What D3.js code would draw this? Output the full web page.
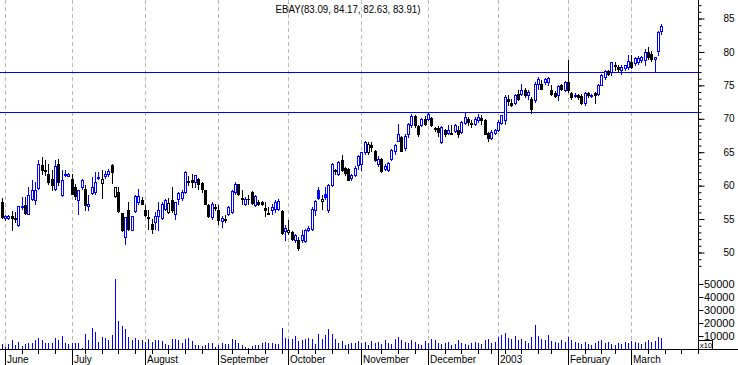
<!DOCTYPE html>
<html>
<head>
<meta charset="utf-8">
<script src="https://cdn.jsdelivr.net/npm/d3@7"></script>
<style>
  body { margin: 0; background: #fff; }
  svg { display: block; font-family: "Liberation Sans", Arial, sans-serif; }
</style>
</head>
<body>
<svg id="chart"></svg>
<script>
// Daily EBAY quotes, 31 May 2002 .. 13 Mar 2003
const opens = [57.6,55.1,55.2,55.4,55.1,54.05,56.8,57.05,55.8,58.05,57.9,59.7,63.05,62.3,61.8,61.05,59.55,63.3,58.55,61.6,
61.5,61.05,59.8,57.8,59.8,59.55,56.9,58.9,59.05,61.2,60.45,61.5,61.7,63.1,58.4,59.05,55.9,52.3,56.3,53.4,
56.2,57.6,57.9,56.3,55.3,54.3,54.55,55.4,55.2,56.55,56.05,57.8,55.8,58.05,58.2,59.05,60.6,60.9,60.55,61.05,
60.4,59.3,57.05,55.3,56.8,56.3,54.7,54.95,55.8,56.05,59.05,60.2,58.1,57.3,58.05,59.05,57.05,57.6,57.55,56.7,
55.9,56.3,56.55,56.55,56.2,53.2,53.05,53.05,51.8,51.8,51.8,51.7,53.4,53.55,56.3,59.3,57.7,58.8,56.3,60.05,
62.3,61.8,63.85,62.6,62.5,61.2,61.55,63.15,63.25,65.0,65.0,66.1,65.15,63.25,64.0,62.5,62.3,64.0,65.25,66.75,
67.25,65.65,67.65,69.0,70.35,68.85,69.0,70.0,70.0,70.15,68.6,68.65,66.5,68.35,67.85,67.8,68.15,68.25,68.0,69.35,
70.0,69.3,69.15,69.75,70.1,69.85,67.85,67.15,67.85,68.25,69.4,69.75,73.0,72.4,72.4,73.65,73.75,74.25,73.5,73.0,
72.75,75.25,75.25,75.5,75.5,74.25,73.9,73.5,75.1,74.25,75.5,73.9,73.4,73.6,73.4,72.4,73.9,73.4,73.9,73.75,
75.1,76.25,77.1,77.0,78.0,77.75,77.35,77.6,77.75,78.5,78.4,78.5,78.75,78.75,80.0,79.7,78.97,80.07,83.09];
const highs = [58.1,55.6,55.6,56.2,56.0,57.0,58.3,58.3,59.8,60.8,60.55,63.9,64.3,63.8,63.3,62.3,63.8,64.0,62.3,62.3,
61.9,61.8,60.3,59.4,61.05,60.05,58.55,61.3,62.05,62.05,62.3,62.2,62.5,63.2,59.8,59.8,55.9,55.3,57.55,55.4,
58.55,59.5,58.3,57.05,56.3,55.05,56.05,57.55,57.55,58.05,58.2,59.8,57.55,59.05,59.3,62.2,61.5,61.8,61.55,61.2,
60.55,59.4,57.3,57.55,57.3,57.05,55.4,55.55,56.9,59.3,60.55,60.3,59.3,58.3,58.55,59.2,58.55,57.8,57.7,57.55,
56.8,57.3,57.8,58.05,56.3,54.05,54.8,53.2,52.8,52.3,53.3,53.55,53.9,56.8,57.8,59.8,58.55,59.8,60.3,63.4,
62.5,63.75,64.6,62.75,62.7,61.8,63.0,64.65,65.0,66.75,66.5,66.5,65.35,64.5,64.15,63.25,63.5,65.5,66.25,69.15,
67.5,67.65,69.35,70.75,70.5,69.0,70.15,70.35,71.0,70.25,68.75,68.85,68.85,68.5,69.0,69.0,69.15,68.85,69.65,70.85,
70.25,69.75,70.25,70.75,70.5,70.0,68.0,68.25,68.5,69.75,70.6,73.5,73.5,73.0,73.75,74.25,75.25,74.6,74.25,73.25,
75.5,76.3,75.75,76.1,76.25,75.0,74.1,75.0,75.25,75.6,78.85,74.0,73.9,73.75,73.75,74.0,74.0,73.75,74.0,75.25,
76.75,77.25,77.25,78.55,78.5,78.0,78.0,78.1,79.55,79.55,79.25,79.45,79.35,80.45,80.7,80.1,79.22,83.2,84.17];
const lows = [55.2,54.9,55.0,53.3,54.5,53.9,56.5,55.8,55.7,57.8,57.3,59.55,61.8,61.55,60.3,59.3,59.4,60.05,58.5,61.4,
61.4,58.7,58.05,55.7,59.55,56.3,56.3,58.8,58.8,61.05,58.2,61.2,61.5,60.4,58.3,56.05,53.2,51.3,53.3,53.3,
56.05,57.3,57.2,55.4,53.55,52.9,53.55,53.4,55.05,56.3,55.9,56.05,55.05,57.3,57.9,58.9,60.05,59.8,59.8,59.55,
59.05,57.2,55.3,55.05,56.3,54.3,53.8,54.55,55.55,55.9,58.8,58.55,57.3,57.05,57.3,57.3,56.9,57.05,57.05,55.4,
55.8,55.8,56.05,56.3,52.8,51.8,52.8,51.8,51.55,50.4,51.55,51.55,53.2,53.4,55.55,58.05,56.55,58.05,56.05,59.9,
61.7,61.55,62.2,61.55,60.8,60.9,61.4,62.5,62.3,64.75,64.75,65.25,63.75,63.0,62.05,62.3,62.2,63.85,64.75,66.65,
65.15,65.35,67.35,68.75,68.75,67.5,68.85,69.0,69.85,68.85,68.15,67.5,66.35,67.5,67.65,67.65,68.0,67.35,67.85,69.25,
69.0,68.75,69.0,69.5,69.25,67.65,66.65,67.0,67.65,68.15,69.2,69.25,72.0,71.9,72.25,72.75,73.5,73.25,73.0,70.9,
72.5,74.5,74.4,75.25,75.0,73.6,73.25,72.75,74.25,74.1,74.0,73.0,73.25,72.9,72.25,72.1,73.25,73.25,72.4,73.6,
75.0,76.0,76.6,76.6,77.25,77.2,76.75,77.25,77.5,77.6,78.1,78.2,78.5,78.1,79.0,78.7,77.0,79.57,82.63];
const closes = [55.3,55.4,55.5,55.2,55.0,56.9,57.0,55.9,58.55,59.3,59.4,63.2,62.3,62.2,60.55,60.05,62.9,60.55,60.8,61.7,
61.8,58.8,58.45,59.3,60.9,57.1,57.3,59.8,60.55,61.3,61.05,61.8,62.2,62.1,59.8,56.2,53.3,55.3,53.55,55.4,
58.4,58.5,57.3,55.55,55.2,53.55,55.4,56.3,57.2,57.8,57.4,56.3,57.55,58.9,59.05,62.05,60.7,60.55,61.55,60.3,
59.55,57.3,55.4,57.3,56.7,54.8,55.2,54.9,56.8,59.2,60.3,58.7,58.0,58.05,58.0,57.4,58.4,57.3,57.2,56.3,
55.8,56.8,57.55,57.65,52.9,53.7,53.4,51.95,52.55,50.7,52.55,53.3,53.7,56.55,57.65,58.2,58.05,58.3,60.05,63.2,
62.2,63.5,62.3,61.9,60.9,61.55,62.7,64.5,65.0,66.5,66.25,65.85,63.85,64.0,62.2,63.0,63.35,65.35,66.1,67.75,
65.25,67.5,69.25,70.35,69.0,67.65,70.0,69.15,70.75,69.0,68.5,68.0,68.75,67.75,68.35,67.75,69.0,67.65,69.5,70.25,
69.5,69.25,69.9,70.25,69.75,67.75,67.15,68.0,68.25,69.5,70.5,73.25,72.6,72.1,73.6,73.0,74.25,73.5,74.0,71.4,
75.25,76.0,74.5,76.0,76.05,73.75,73.4,74.9,74.5,75.5,74.25,73.25,73.6,73.25,72.4,73.9,73.5,73.6,73.5,75.1,
76.5,77.1,76.75,78.5,77.95,77.4,77.7,78.0,78.7,77.75,79.05,79.1,79.25,80.05,79.2,78.97,79.22,83.05,83.91];
const volumes = [3800,1800,3800,6900,3100,5400,2300,3800,4600,4600,
6900,8500,6900,4600,4600,4600,8500,6900,10000,4600,
3800,4600,4600,4600,800,11500,6900,16100,13100,5400,
9200,8500,6900,10800,53800,21500,17700,15400,9200,6900,
8500,6900,6900,5400,7700,5400,6900,6900,6200,3800,
3100,7700,7700,6900,4600,7700,8500,6200,3100,3100,
2300,3100,4600,4600,1500,3100,4600,3800,3800,7700,
6900,4600,3100,1500,800,2300,3100,3100,4600,5400,
4600,4600,3800,3800,16100,8500,7700,7700,10000,6200,
6900,7700,8500,7700,3800,11500,7700,10800,15400,11500,
7700,4600,6200,3100,3800,4600,4600,6200,4600,5400,
3100,6200,4600,5400,3800,6900,4600,3800,7700,9200,
6900,5400,4600,6900,5400,3800,3100,6200,4600,7700,
6900,4600,3800,4600,5400,3100,3800,6900,4600,3800,
3100,4600,5400,4600,3800,6900,7700,4600,5400,9200,
10800,12300,8500,7700,10000,6900,7700,6200,4600,9200,
18500,10000,7700,6900,10800,6200,5400,4600,6900,5400,
9200,6900,5400,4600,3800,5400,3800,3100,4600,6200,
6900,4600,5400,3800,3100,4600,3800,5400,4600,6200,
5400,4600,3800,5400,6900,5400,6200,9200,8500];

// axis data
const monthStarts = [1, 21, 43, 65, 86, 108, 128, 149, 170, 189];
const monthLabels = ["June", "July", "August", "September", "October", "November", "December", "2003", "February", "March"];
const weekStarts = [6, 11, 16, 25, 30, 35, 40, 45, 50, 55, 60, 69, 74, 79, 84, 89, 94, 99, 104, 114, 119, 124,
  133, 138, 143, 147, 151, 156, 161, 165, 175, 180, 184, 194, 199, 204, 209];
const priceTicks = [50, 55, 60, 65, 70, 75, 80, 85];
const volumeTicks = [10000, 20000, 30000, 40000, 50000];
const levels = [77, 71];
const title = "EBAY(83.09, 84.17, 82.63, 83.91)";

const width = 738, height = 365;
const axisX = 698;
const svg = d3.select("#chart").attr("width", width).attr("height", height);

const x = d3.scaleLinear().domain([-0.5, 209]).range([0, axisX]);
const y = d3.scaleLinear().domain([47.38, 87.77]).range([270, 0]);
const yv = d3.scaleLinear().domain([0, 60000]).range([349, 271]);
const px = i => Math.round(x(i)) + 0.5;

const BLUE = "#0000ff", BLACK = "#000000";

// month grid (dashed)
svg.append("g").selectAll("line")
  .data(monthStarts)
  .enter().append("line")
  .attr("x1", d => px(d)).attr("x2", d => px(d))
  .attr("y1", 0).attr("y2", 349)
  .attr("stroke", "#b8b8b8")
  .attr("stroke-dasharray", "4,3");

// horizontal levels
svg.append("g").selectAll("line")
  .data(levels)
  .enter().append("line")
  .attr("x1", 0).attr("x2", axisX)
  .attr("y1", d => Math.round(y(d)) + 0.5).attr("y2", d => Math.round(y(d)) + 0.5)
  .attr("stroke", BLUE);

// title
svg.append("text")
  .attr("x", 348).attr("y", 13)
  .attr("text-anchor", "middle")
  .attr("font-size", 10)
  .attr("textLength", 145)
  .attr("lengthAdjust", "spacingAndGlyphs")
  .text(title);

// candles: colour by close vs previous close, hollow when close above open
const candles = closes.map((c, i) => ({
  i, o: opens[i], h: highs[i], l: lows[i], c,
  color: (i === 0 ? c >= opens[i] : c >= closes[i - 1]) ? BLUE : BLACK
}));

const cg = svg.append("g");
cg.selectAll(".wick")
  .data(candles)
  .enter().append("line")
  .attr("class", "wick")
  .attr("x1", d => px(d.i)).attr("x2", d => px(d.i))
  .attr("y1", d => Math.round(y(d.h))).attr("y2", d => Math.round(y(d.l)) + 1)
  .attr("stroke", d => d.color);

cg.selectAll(".hollow")
  .data(candles.filter(d => d.c > d.o))
  .enter().append("rect")
  .attr("class", "hollow")
  .attr("x", d => px(d.i) - 1)
  .attr("y", d => Math.round(y(d.c)) + 0.5)
  .attr("width", 2)
  .attr("height", d => Math.max(0, Math.round(y(d.o)) - Math.round(y(d.c))))
  .attr("fill", "#fff")
  .attr("stroke", d => d.color);

cg.selectAll(".filled")
  .data(candles.filter(d => d.c <= d.o))
  .enter().append("rect")
  .attr("class", "filled")
  .attr("x", d => px(d.i) - 1.5)
  .attr("y", d => Math.round(y(d.o)))
  .attr("width", 3)
  .attr("height", d => Math.max(1, Math.round(y(d.c)) - Math.round(y(d.o)) + 1))
  .attr("fill", d => d.color);

// volume
svg.append("g").selectAll("line")
  .data(volumes)
  .enter().append("line")
  .attr("x1", (d, i) => px(i)).attr("x2", (d, i) => px(i))
  .attr("y1", 349).attr("y2", d => Math.round(yv(d)))
  .attr("stroke", BLUE);

// right price axis: minor ticks every 1, labels every 5
const priceMinor = svg.append("g")
  .attr("transform", `translate(${axisX + 0.5},0)`)
  .call(d3.axisRight(y).tickValues(d3.range(48, 88)).tickSize(3).tickFormat(""));
priceMinor.select(".domain").remove();
const priceMajor = svg.append("g")
  .attr("transform", `translate(${axisX + 0.5},0)`)
  .call(d3.axisRight(y).tickValues(priceTicks).tickSize(6).tickPadding(30));
priceMajor.select(".domain").remove();
priceMajor.selectAll("text")
  .attr("text-anchor", "end")
  .attr("font-size", 10)
  .attr("font-family", "Liberation Sans, Arial, sans-serif");

// right volume axis
const volAxis = svg.append("g")
  .attr("transform", `translate(${axisX + 0.5},0)`)
  .call(d3.axisRight(yv).tickValues(volumeTicks).tickSize(5).tickPadding(31).tickFormat(d3.format("d")));
volAxis.select(".domain").remove();
volAxis.selectAll("text")
  .attr("text-anchor", "end")
  .attr("font-size", 11)
  .attr("font-family", "Liberation Sans, Arial, sans-serif");

// axis lines
svg.append("line")
  .attr("x1", axisX + 0.5).attr("x2", axisX + 0.5)
  .attr("y1", 0).attr("y2", 350)
  .attr("stroke", BLACK);
svg.append("line")
  .attr("x1", 0).attr("x2", width)
  .attr("y1", 349.5).attr("y2", 349.5)
  .attr("stroke", BLACK);

// x10 multiplier box
const mult = svg.append("g").attr("transform", `translate(${axisX + 0.5},340.5)`);
mult.append("rect").attr("width", 14).attr("height", 9).attr("fill", "#fff").attr("stroke", BLACK);
mult.append("text").attr("x", 1.5).attr("y", 7.5).attr("font-size", 7.5).text("x10");

// bottom time axis
svg.append("g").selectAll("line")
  .data(weekStarts)
  .enter().append("line")
  .attr("x1", d => px(d)).attr("x2", d => px(d))
  .attr("y1", 350).attr("y2", 354)
  .attr("stroke", BLACK);
svg.append("g").selectAll("line")
  .data(monthStarts)
  .enter().append("line")
  .attr("x1", d => px(d)).attr("x2", d => px(d))
  .attr("y1", 350).attr("y2", height)
  .attr("stroke", BLACK);
svg.append("g").selectAll("text")
  .data(monthStarts)
  .enter().append("text")
  .attr("x", d => px(d) + 1.5)
  .attr("y", 363)
  .attr("font-size", 10)
  .text((d, i) => monthLabels[i]);
</script>
</body>
</html>
